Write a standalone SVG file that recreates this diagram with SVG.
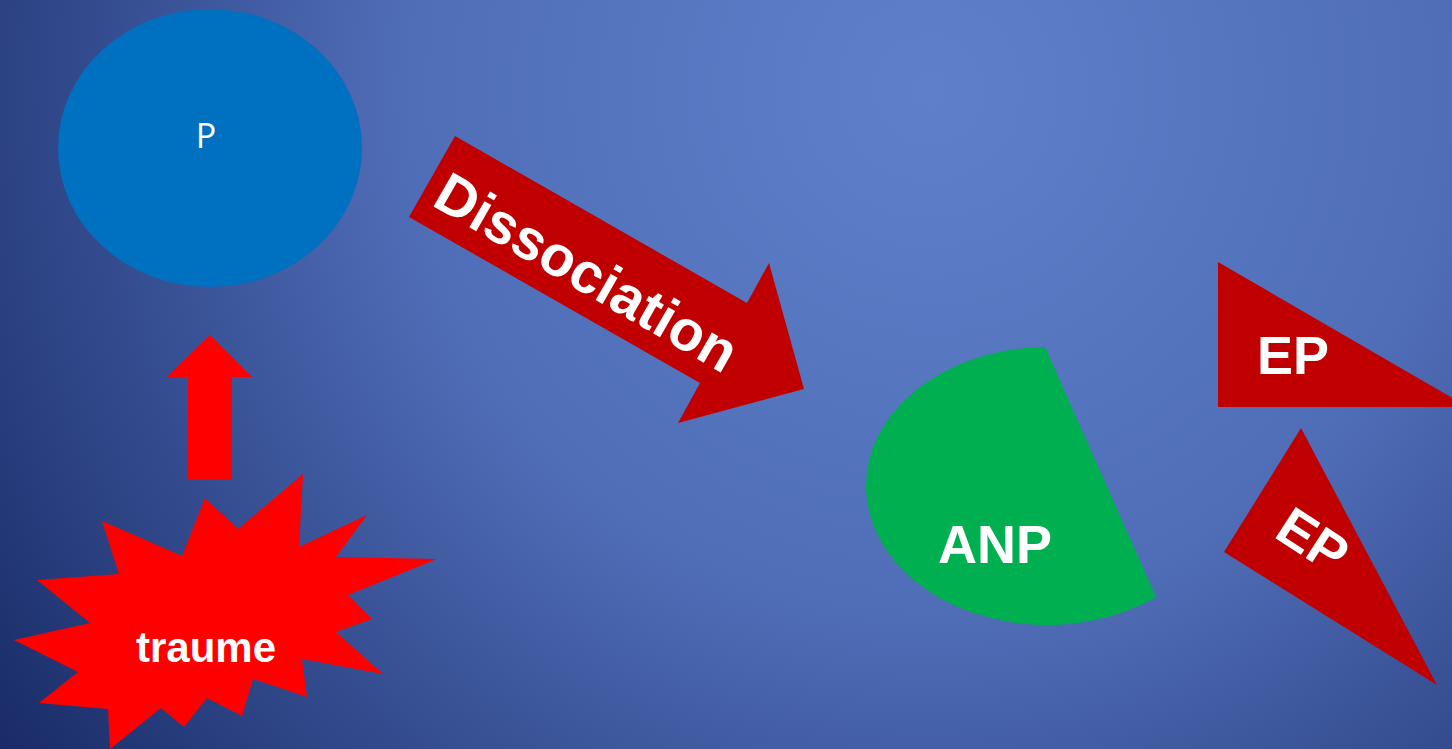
<svg xmlns="http://www.w3.org/2000/svg" width="1452" height="749" viewBox="0 0 1452 749">
<style>
.lbl{fill:#FFFFFF;font-family:"Liberation Sans",Arial,sans-serif;font-weight:bold}
.dark{fill:#C00000}
</style>
<defs>
<radialGradient id="bg" gradientUnits="userSpaceOnUse" cx="930" cy="90" r="1150">
<stop offset="0" stop-color="#5E80CA"/>
<stop offset="0.45" stop-color="#506EB8"/>
<stop offset="1" stop-color="#182A66"/>
</radialGradient>
</defs>
<rect x="0" y="0" width="1452" height="749" fill="url(#bg)"/>
<g id="node-P">
<ellipse cx="210" cy="148" rx="152" ry="139" fill="#0070C0"/>
<text x="206" y="148" text-anchor="middle" font-family="'Open Sans','Liberation Sans',sans-serif" font-size="34" fill="#FFFFFF">P</text>
</g>
<g id="node-traume">
<polygon fill="#FF0000" points="205,498 238,529 303,474 299,547 367,515 336,557 437,559 348,595 372,619 336,632 383,674 302,659 307,697 253,679 242,716 207,698 184,727 161,708 110,749 108,709 39,703 78,672 14,640 90,623 37,580 119,574 102,521 182,556"/>
<text class="lbl" x="206" y="662" text-anchor="middle" font-size="42">traume</text>
</g>
<g id="node-ANP">
<path d="M1045,347 A181,139 0 1 0 1156,597 Z" fill="#00B050"/>
<text class="lbl" x="995" y="563" text-anchor="middle" font-size="54">ANP</text>
</g>
<g id="node-EP1">
<polygon class="dark" points="1218,262 1218,407 1468,407"/>
<text class="lbl" x="1293" y="374" text-anchor="middle" font-size="54">EP</text>
</g>
<g id="node-EP2">
<polygon class="dark" points="1301,428 1224,552 1437,685"/>
<text class="lbl" x="0" y="19" text-anchor="middle" font-size="54" transform="translate(1313,540) rotate(33)">EP</text>
</g>
<g id="connectors">
<polygon id="arrow-up" fill="#FF0000" points="210,335 252,377 232,377 232,480 188,480 188,377 167,377"/>
<g id="arrow-dissociation">
<polygon class="dark" points="455,136 747,303 769,263 804,389 678,423 700,383 409,217"/>
<text class="lbl" x="0" y="20" text-anchor="middle" font-size="57" transform="translate(587,272) rotate(30)">Dissociation</text>
</g>
</g>
</svg>
